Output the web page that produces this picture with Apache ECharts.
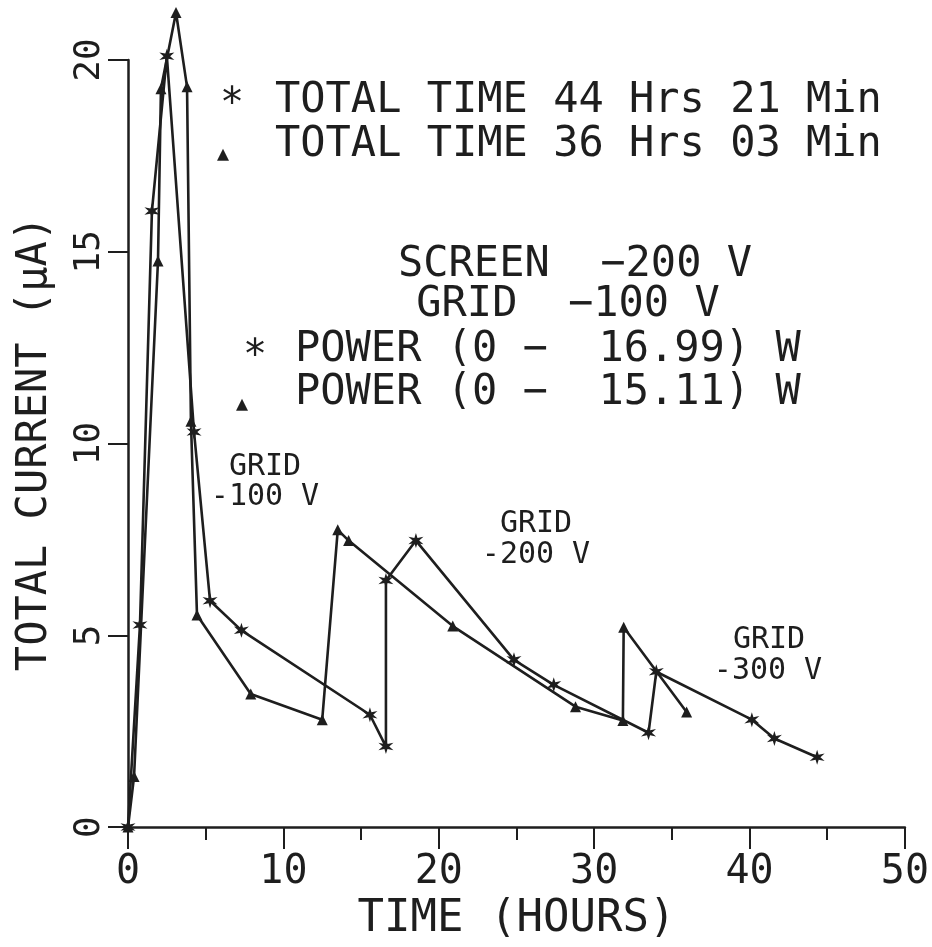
<!DOCTYPE html>
<html>
<head>
<meta charset="utf-8">
<script src="https://cdn.jsdelivr.net/npm/echarts@6/dist/echarts.min.js"></script>
<style>
html,body{margin:0;padding:0;background:#fff;}
#chart{width:932px;height:947px;}
</style>
</head>
<body>
<div id="chart"></div>
<script>
// Series 1 (asterisk): total time 44 h 21 min
const starHours = [0, 0.77, 1.54, 2.5, 4.25, 5.28, 7.3, 15.57, 16.6, 16.6, 18.53, 24.84, 27.4, 33.5, 34.0, 40.15, 41.6, 44.35];
const starCurrent = [0, 5.27, 16.06, 20.1, 10.3, 5.9, 5.13, 2.93, 2.1, 6.43, 7.47, 4.36, 3.71, 2.46, 4.05, 2.8, 2.31, 1.82];
// Series 2 (triangle): total time 36 h 03 min
const triHours = [0, 0.39, 1.93, 2.12, 3.09, 3.8, 4.05, 4.44, 7.9, 12.5, 13.5, 14.2, 20.9, 28.8, 31.85, 31.9, 35.95];
const triCurrent = [0, 1.32, 14.76, 19.25, 21.24, 19.3, 10.58, 5.53, 3.47, 2.8, 7.75, 7.47, 5.24, 3.14, 2.78, 5.21, 3.0];

const xTicks = [0, 10, 20, 30, 40, 50];
const yTicks = [0, 5, 10, 15, 20];

const FONT = '"DejaVu Sans Mono", monospace';
const INK = '#1e1e1e';
const STAR = 'path://M0,-10L1.8,-3.4L8.66,-5L3.8,0L8.66,5L1.8,3.4L0,10L-1.8,3.4L-8.66,5L-3.8,0L-8.66,-5L-1.8,-3.4Z';

const pairs = (xs, ys) => xs.map((x, i) => [x, ys[i]]);

function txt(t, x, y, size, align) {
  return {
    type: 'text', x: x, y: y, silent: true,
    style: { text: t, font: size + 'px ' + FONT, fill: INK, textAlign: align || 'left', textVerticalAlign: 'middle' }
  };
}

const chart = echarts.init(document.getElementById('chart'), null, { renderer: 'canvas' });
chart.setOption({
  backgroundColor: '#fff',
  animation: false,
  grid: { left: 128, right: 27, top: 60, bottom: 116 },
  xAxis: {
    type: 'value', min: xTicks[0], max: xTicks[xTicks.length - 1], interval: 10,
    name: 'TIME (HOURS)', nameLocation: 'middle', nameGap: 66,
    nameTextStyle: { fontFamily: FONT, fontSize: 44, color: INK },
    axisLine: { show: true, lineStyle: { color: INK, width: 2.5 } },
    axisTick: { show: true, length: 22, lineStyle: { color: INK, width: 2 } },
    minorTick: { show: true, splitNumber: 2, length: 13, lineStyle: { color: INK, width: 2 } },
    splitLine: { show: false },
    axisLabel: { margin: 26, fontFamily: FONT, fontSize: 40, color: INK }
  },
  yAxis: {
    type: 'value', min: yTicks[0], max: yTicks[yTicks.length - 1], interval: 5,
    name: 'TOTAL CURRENT (μA)', nameLocation: 'middle', nameGap: 72,
    nameTextStyle: { fontFamily: FONT, fontSize: 42, color: INK },
    axisLine: { show: true, lineStyle: { color: INK, width: 2.5 } },
    axisTick: { show: true, length: 20, lineStyle: { color: INK, width: 2 } },
    splitLine: { show: false },
    axisLabel: { rotate: 90, margin: 20, fontFamily: FONT, fontSize: 36, color: INK }
  },
  series: [
    {
      type: 'line', data: pairs(starHours, starCurrent), clip: false,
      symbol: STAR, symbolSize: 15, showAllSymbol: true,
      lineStyle: { color: INK, width: 2.6 },
      itemStyle: { color: INK }
    },
    {
      type: 'line', data: pairs(triHours, triCurrent), clip: false,
      symbol: 'triangle', symbolSize: 11, showAllSymbol: true,
      lineStyle: { color: INK, width: 2.6 },
      itemStyle: { color: INK }
    }
  ],
  graphic: [
    txt('*', 232, 106, 40, 'center'),
    txt('TOTAL TIME 44 Hrs 21 Min', 275, 101, 42),
    txt('▲', 223, 155, 20, 'center'),
    txt('TOTAL TIME 36 Hrs 03 Min', 275, 145, 42),
    txt('SCREEN  −200 V', 575, 265, 42, 'center'),
    txt('GRID  −100 V', 568, 305, 42, 'center'),
    txt('*', 255, 358, 40, 'center'),
    txt('POWER (0 −  16.99) W', 295, 350, 42),
    txt('▲', 242, 405, 20, 'center'),
    txt('POWER (0 −  15.11) W', 295, 393, 42),
    txt('GRID', 265, 467, 30, 'center'),
    txt('-100 V', 265, 497, 30, 'center'),
    txt('GRID', 536, 524, 30, 'center'),
    txt('-200 V', 536, 555, 30, 'center'),
    txt('GRID', 769, 640, 30, 'center'),
    txt('-300 V', 768, 671, 30, 'center')
  ]
});
</script>
</body>
</html>
